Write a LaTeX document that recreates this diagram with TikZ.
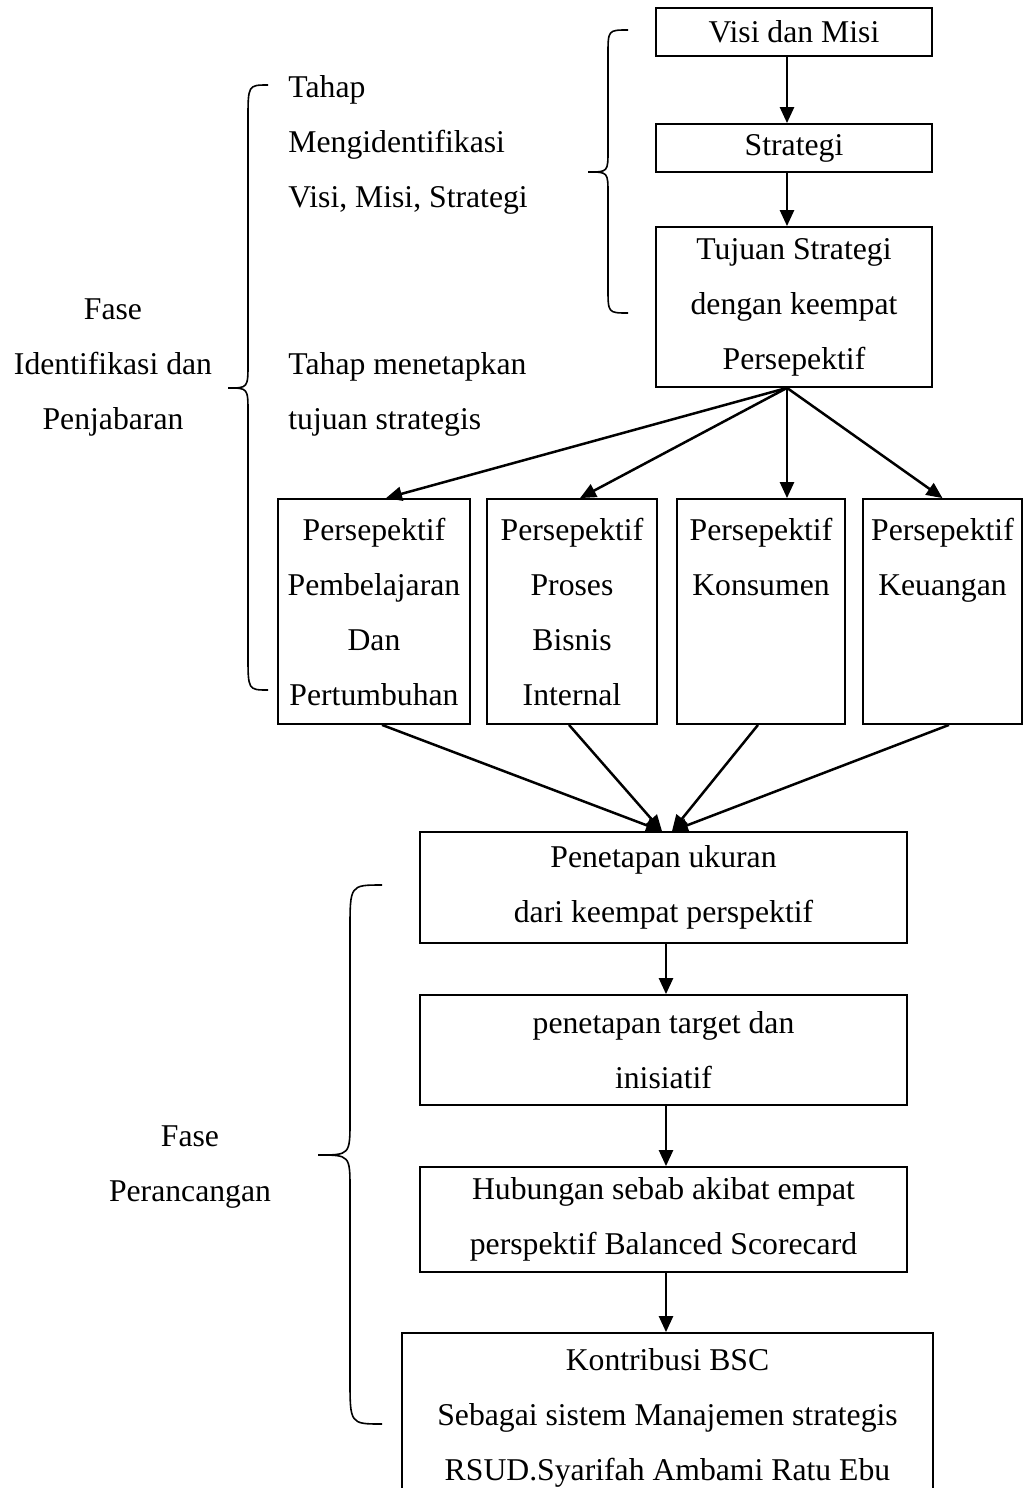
\documentclass[tikz,border=0pt]{standalone}
\usepackage{fontspec}
\setmainfont{Liberation Serif}
\usetikzlibrary{arrows.meta,calc}
\begin{document}
\begin{tikzpicture}[x=0.5pt,y=-0.5pt,
  txt/.style={font={\fontsize{15.85}{27.5}\selectfont}, align=center},
  box/.style={txt, draw, line width=0.9pt, inner sep=1pt},
  arr/.style={line width=1.25pt, -{Triangle[length=8pt,width=7pt]}},
  brc/.style={line width=0.8pt},
  lbl/.style={txt, inner sep=0pt}]
\useasboundingbox (0,0) rectangle (1024,1488);

% boxes
\node[box, minimum width=138pt, minimum height=24pt] (vm) at (794,32) {Visi dan Misi};
\node[box, minimum width=138pt, minimum height=24pt] (st) at (794,148) {Strategi};
\node[box, minimum width=138pt, minimum height=80pt] (tu) at (794,307) {Tujuan Strategi\\dengan keempat\\Persepektif};

\node[box, minimum width=96pt, minimum height=112.5pt] (b1) at (374,611.5) {Persepektif\\Pembelajaran\\Dan\\Pertumbuhan};
\node[box, minimum width=85pt, minimum height=112.5pt] (b2) at (572,611.5) {Persepektif\\Proses\\Bisnis\\Internal};
\node[box, minimum width=84pt, minimum height=112.5pt] (b3) at (761,611.5) {Persepektif\\Konsumen\\\mbox{}\\\mbox{}};
\node[box, minimum width=79.5pt, minimum height=112.5pt] (b4) at (942.5,611.5) {Persepektif\\Keuangan\\\mbox{}\\\mbox{}};

\node[box, minimum width=243.5pt, minimum height=55.5pt] (pu) at (663.5,887.5) {Penetapan ukuran\\dari keempat perspektif};
\node[box, minimum width=243.5pt, minimum height=55pt] (pt) at (663.5,1050) {penetapan target dan\\inisiatif};
\node[box, minimum width=243.5pt, minimum height=52.5pt] (hu) at (663.5,1219.5) {Hubungan sebab akibat empat\\perspektif Balanced Scorecard};
\node[box, minimum width=265.5pt, minimum height=85pt] (ko) at (667.5,1418) {Kontribusi BSC\\Sebagai sistem Manajemen strategis\\RSUD.Syarifah Ambami Ratu Ebu};

% labels
\node[lbl, align=left, anchor=west] (l1) at (288,145) {Tahap\\Mengidentifikasi\\Visi, Misi, Strategi};
\node[lbl, align=left, anchor=west] (l2) at (288,394) {Tahap menetapkan\\tujuan strategis};
\node[lbl] (f1) at (113,367) {Fase\\Identifikasi dan\\Penjabaran};
\node[lbl] (f2) at (190,1167) {Fase\\Perancangan};

% arrows
\draw[arr] ([xshift=-3.5pt]vm.south) -- ([xshift=-3.5pt]st.north);
\draw[arr] ([xshift=-3.5pt]st.south) -- ([xshift=-3.5pt]tu.north);
\draw[arr] ([xshift=-3.5pt]tu.south) -- ([xshift=6pt]b1.north);
\draw[arr] ([xshift=-3.5pt]tu.south) -- ([xshift=4pt]b2.north);
\draw[arr] ([xshift=-3.5pt]tu.south) -- ([xshift=13pt]b3.north);
\draw[arr] ([xshift=-3.5pt]tu.south) -- (b4.north);

\draw[arr] ([xshift=4pt]b1.south) -- ([xshift=-0.75pt]pu.north);
\draw[arr] ([xshift=-1.5pt]b2.south) -- ([xshift=-0.75pt]pu.north);
\draw[arr] ([xshift=-1.5pt]b3.south) -- ([xshift=4.25pt]pu.north);
\draw[arr] ([xshift=3.25pt]b4.south) -- ([xshift=4.25pt]pu.north);

\draw[arr] ([xshift=1.25pt]pu.south) -- ([xshift=1.25pt]pt.north);
\draw[arr] ([xshift=1.25pt]pt.south) -- ([xshift=1.25pt]hu.north);
\draw[arr] ([xshift=1.25pt]hu.south) -- ([xshift=-0.75pt]ko.north);

% braces
\draw[brc] (628,30) .. controls (608,30) .. (608,55) -- (608,150) .. controls (608,172) .. (588,172) .. controls (608,172) .. (608,194) -- (608,288) .. controls (608,313) .. (628,313);
\draw[brc] (268,85) .. controls (248,85) .. (248,120) -- (248,363) .. controls (248,388) .. (228,388) .. controls (248,388) .. (248,413) -- (248,655) .. controls (248,690) .. (268,690);
\draw[brc] (382,885) .. controls (350,885) .. (350,930) -- (350,1120) .. controls (350,1155) .. (318,1155) .. controls (350,1155) .. (350,1190) -- (350,1379) .. controls (350,1424) .. (382,1424);
\end{tikzpicture}
\end{document}
